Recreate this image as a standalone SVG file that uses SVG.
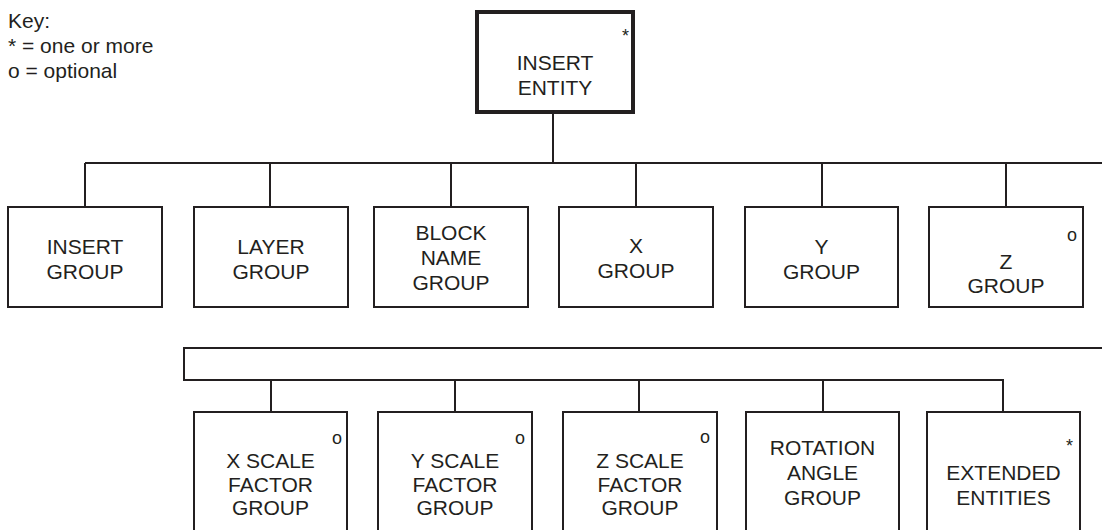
<svg xmlns="http://www.w3.org/2000/svg" width="1102" height="530" viewBox="0 0 1102 530">
<style>
.b{fill:#fff;stroke:#231f20;stroke-width:2}
.bt{fill:#fff;stroke:#231f20;stroke-width:4}
.l{fill:none;stroke:#231f20;stroke-width:2}
text{font-family:"Liberation Sans",Arial,sans-serif;font-size:21px;fill:#231f20}
.c{text-anchor:middle}
.m{font-size:18px}
</style>
<rect width="1102" height="530" fill="#fff"/>
<g id="key">
<text x="8" y="28">Key:</text>
<text x="8" y="53">* = one or more</text>
<text x="8" y="78">o = optional</text>
</g>
<g id="connectors">
<path class="l" d="M553 112V163M85 163H1102M85 163V207M270 163V207M451 163V207M636 163V207M822 163V207M1006 163V207"/>
<path class="l" d="M1102 348H184V380H1003V412M271 380V412M455 380V412M639 380V412M823 380V412"/>
</g>
<g id="insert-entity">
<rect class="bt" x="477" y="12" width="156" height="100"/>
<text class="m" x="622" y="42">*</text>
<text class="c" x="555" y="70">INSERT</text>
<text class="c" x="555" y="95">ENTITY</text>
</g>
<g id="insert-group">
<rect class="b" x="8" y="207" width="154" height="100"/>
<text class="c" x="85" y="254">INSERT</text>
<text class="c" x="85" y="279">GROUP</text>
</g>
<g id="layer-group">
<rect class="b" x="194" y="207" width="154" height="100"/>
<text class="c" x="271" y="254">LAYER</text>
<text class="c" x="271" y="279">GROUP</text>
</g>
<g id="block-name-group">
<rect class="b" x="374" y="207" width="154" height="100"/>
<text class="c" x="451" y="240">BLOCK</text>
<text class="c" x="451" y="265">NAME</text>
<text class="c" x="451" y="290">GROUP</text>
</g>
<g id="x-group">
<rect class="b" x="559" y="207" width="154" height="100"/>
<text class="c" x="636" y="253">X</text>
<text class="c" x="636" y="278">GROUP</text>
</g>
<g id="y-group">
<rect class="b" x="745" y="207" width="153" height="100"/>
<text class="c" x="821.5" y="254">Y</text>
<text class="c" x="821.5" y="279">GROUP</text>
</g>
<g id="z-group">
<rect class="b" x="929" y="207" width="154" height="100"/>
<text class="m" x="1067" y="241">o</text>
<text class="c" x="1006" y="269">Z</text>
<text class="c" x="1006" y="293">GROUP</text>
</g>
<g id="x-scale-factor-group">
<rect class="b" x="194" y="412" width="153" height="130"/>
<text class="m" x="332" y="444">o</text>
<text class="c" x="270.5" y="468">X SCALE</text>
<text class="c" x="270.5" y="492">FACTOR</text>
<text class="c" x="270.5" y="515">GROUP</text>
</g>
<g id="y-scale-factor-group">
<rect class="b" x="378" y="412" width="154" height="130"/>
<text class="m" x="515" y="444">o</text>
<text class="c" x="455" y="468">Y SCALE</text>
<text class="c" x="455" y="492">FACTOR</text>
<text class="c" x="455" y="515">GROUP</text>
</g>
<g id="z-scale-factor-group">
<rect class="b" x="563" y="412" width="154" height="130"/>
<text class="m" x="700" y="443">o</text>
<text class="c" x="640" y="468">Z SCALE</text>
<text class="c" x="640" y="492">FACTOR</text>
<text class="c" x="640" y="515">GROUP</text>
</g>
<g id="rotation-angle-group">
<rect class="b" x="746" y="412" width="153" height="130"/>
<text class="c" x="822.5" y="455">ROTATION</text>
<text class="c" x="822.5" y="480">ANGLE</text>
<text class="c" x="822.5" y="505">GROUP</text>
</g>
<g id="extended-entities">
<rect class="b" x="927" y="412" width="153" height="130"/>
<text class="m" x="1066" y="452">*</text>
<text class="c" x="1003.5" y="480">EXTENDED</text>
<text class="c" x="1003.5" y="505">ENTITIES</text>
</g>
</svg>
